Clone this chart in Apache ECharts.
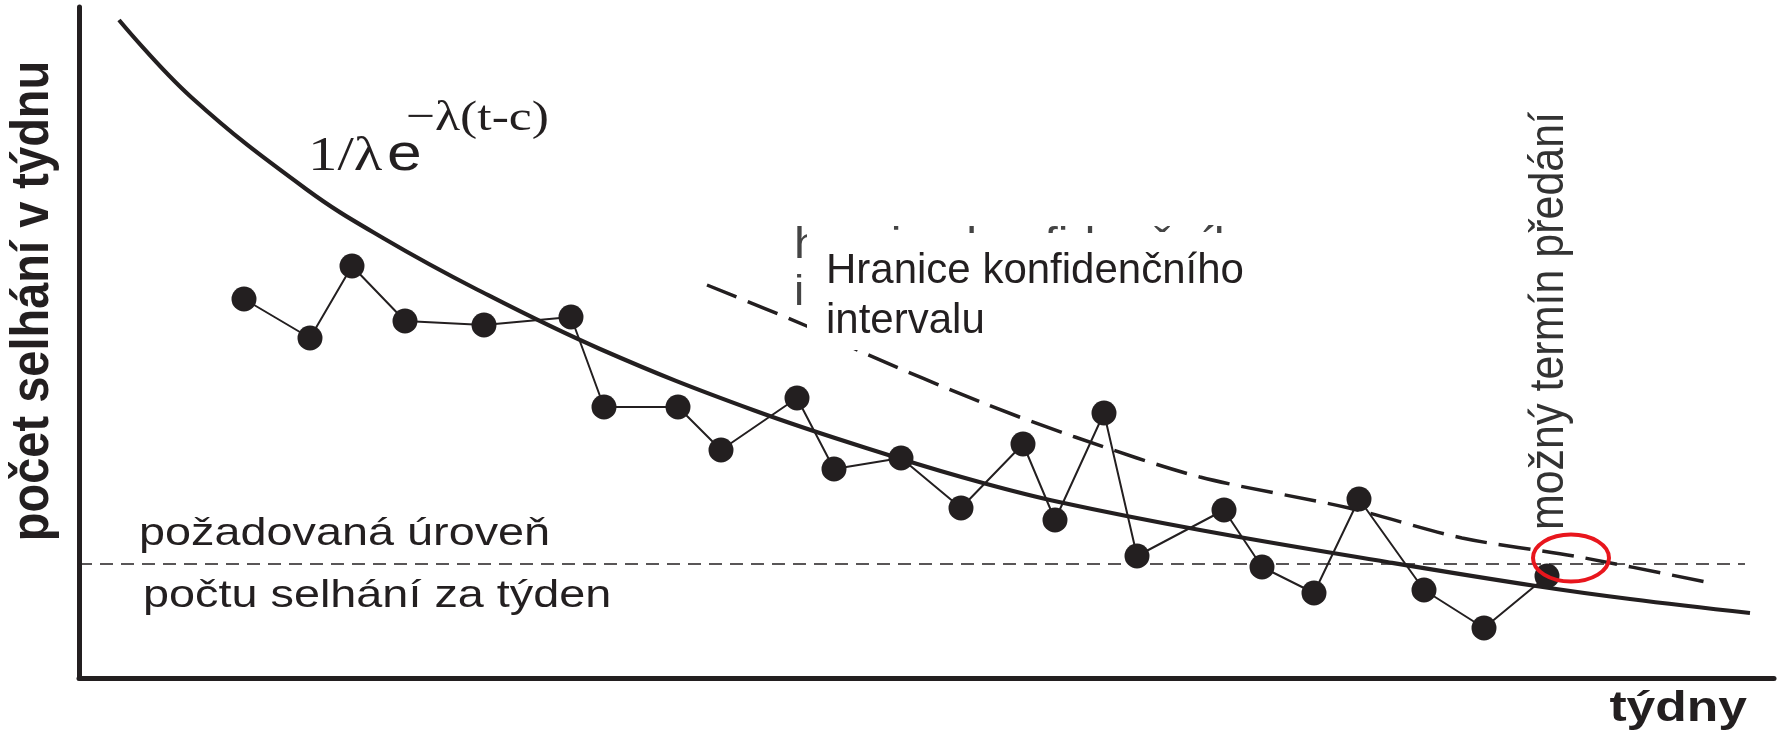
<!DOCTYPE html>
<html>
<head>
<meta charset="utf-8">
<script src="https://cdn.jsdelivr.net/npm/echarts@6/dist/echarts.min.js"></script>
<style>
html,body{margin:0;padding:0;background:#fff;}
#chart{width:1781px;height:734px;}
</style>
</head>
<body>
<div id="chart"></div>
<script>
// Values (arbitrary units, no ticks on the original)
var failuresX = [165,231,273,326,405,492,525,599,642,718,755,822,882,944,976,1025,1058,1145,1183,1235,1280,1345,1405,1468];
var failuresY = [379,340,412,357,353,361,271,271,228,280,209,220,170,234,158,265,122,168,111,85,179,88,50,102];
var trendX = [40,112,227,304,399,521,674,819,904,980,1121,1308,1457,1551,1671];
var trendY = [658,581,489,440,388,329,268,220,195,176,148,116,92,79,65];
var confX = [628,730,785,904,996,1121,1270,1383,1495,1632];
var confY = [393,351,325,275,241,201,170,140,122,95];
var targetLevel = 114;
var targetX = [0,1666];
var deliveryPoint = [1492,120];

function zip(a,b){return a.map(function(v,i){return [v,b[i]];});}

var chart = echarts.init(document.getElementById('chart'));
var INK = '#231f20';
var SANS = '"Liberation Sans", Arial, sans-serif';
var SERIF = '"Liberation Serif", "Times New Roman", serif';

chart.setOption({
  animation:false,
  backgroundColor:'#fff',
  grid:{left:79,right:7,top:7,bottom:56},
  xAxis:{type:'value',min:0,max:1695,axisLine:{show:true,lineStyle:{color:INK,width:5}},axisTick:{show:false},axisLabel:{show:false},splitLine:{show:false}},
  yAxis:{type:'value',min:0,max:671,axisLine:{show:true,lineStyle:{color:INK,width:5}},axisTick:{show:false},axisLabel:{show:false},splitLine:{show:false}},
  series:[
    {type:'line',data:zip(targetX,[targetLevel,targetLevel]),showSymbol:false,lineStyle:{color:INK,width:1.6,type:[13,8]},z:1},
    {type:'line',data:zip(trendX,trendY),smooth:0.4,showSymbol:false,lineStyle:{color:INK,width:4.2},z:2},
    {type:'line',data:zip(confX,confY),smooth:0.3,showSymbol:false,lineStyle:{color:INK,width:3.5,type:[32,12]},z:2},
    {type:'line',data:zip(failuresX,failuresY),symbol:'circle',symbolSize:25,itemStyle:{color:INK},lineStyle:{color:INK,width:2},z:3}
  ]
});

function t(text,x,baseline,size,opts){
  opts=opts||{};
  return {type:'text',x:x,y:baseline-0.33*size,scaleX:opts.sx||1,scaleY:opts.sy||1,rotation:opts.rot||0,z:opts.z||20,
    style:{text:text,x:0,y:0,font:(opts.weight||'normal')+' '+size+'px '+(opts.family||SANS),fill:opts.fill||INK,align:opts.align||'left',verticalAlign:'middle'}};
}

var c = chart.convertToPixel({gridIndex:0},deliveryPoint);

chart.setOption({graphic:[
  t('hranice konfidenčního',794,260,44,{sx:1.1,fill:'#444',z:5}),
  t('intervalu',794,307,42,{sx:1.1,fill:'#444',z:5}),
  {type:'rect',shape:{x:807,y:233,width:460,height:117},style:{fill:'#fff'},z:10},
  t('Hranice konfidenčního',826,285,42,{z:11}),
  t('intervalu',826,335,42,{z:11}),
  t('1/λ',308,173,49,{sx:1.2,family:SERIF}),
  t('e',387,173,52,{sx:1.2}),
  t('−λ(t-c)',406,133,43,{sx:1.2,family:SERIF}),
  t('požadovaná úroveň',139,547,39,{sx:1.2}),
  t('počtu selhání za týden',143,609,39,{sx:1.2}),
  t('týdny',1747,723,43,{sx:1.2,weight:'bold',align:'right'}),
  {type:'text',x:33,y:301,rotation:Math.PI/2,scaleY:1.15,z:20,style:{text:'počet selhání v týdnu',x:0,y:0,font:'bold 47px '+SANS,fill:INK,align:'center',verticalAlign:'middle'}},
  {type:'text',x:1550,y:321,rotation:Math.PI/2,scaleY:1.12,z:20,style:{text:'možný termín předání',x:0,y:0,font:'normal 43px '+SANS,fill:'#333',align:'center',verticalAlign:'middle'}},
  {type:'ellipse',shape:{cx:c[0],cy:c[1],rx:38,ry:23.5},style:{fill:'none',stroke:'#e8161d',lineWidth:4},z:30}
]});
</script>
</body>
</html>
